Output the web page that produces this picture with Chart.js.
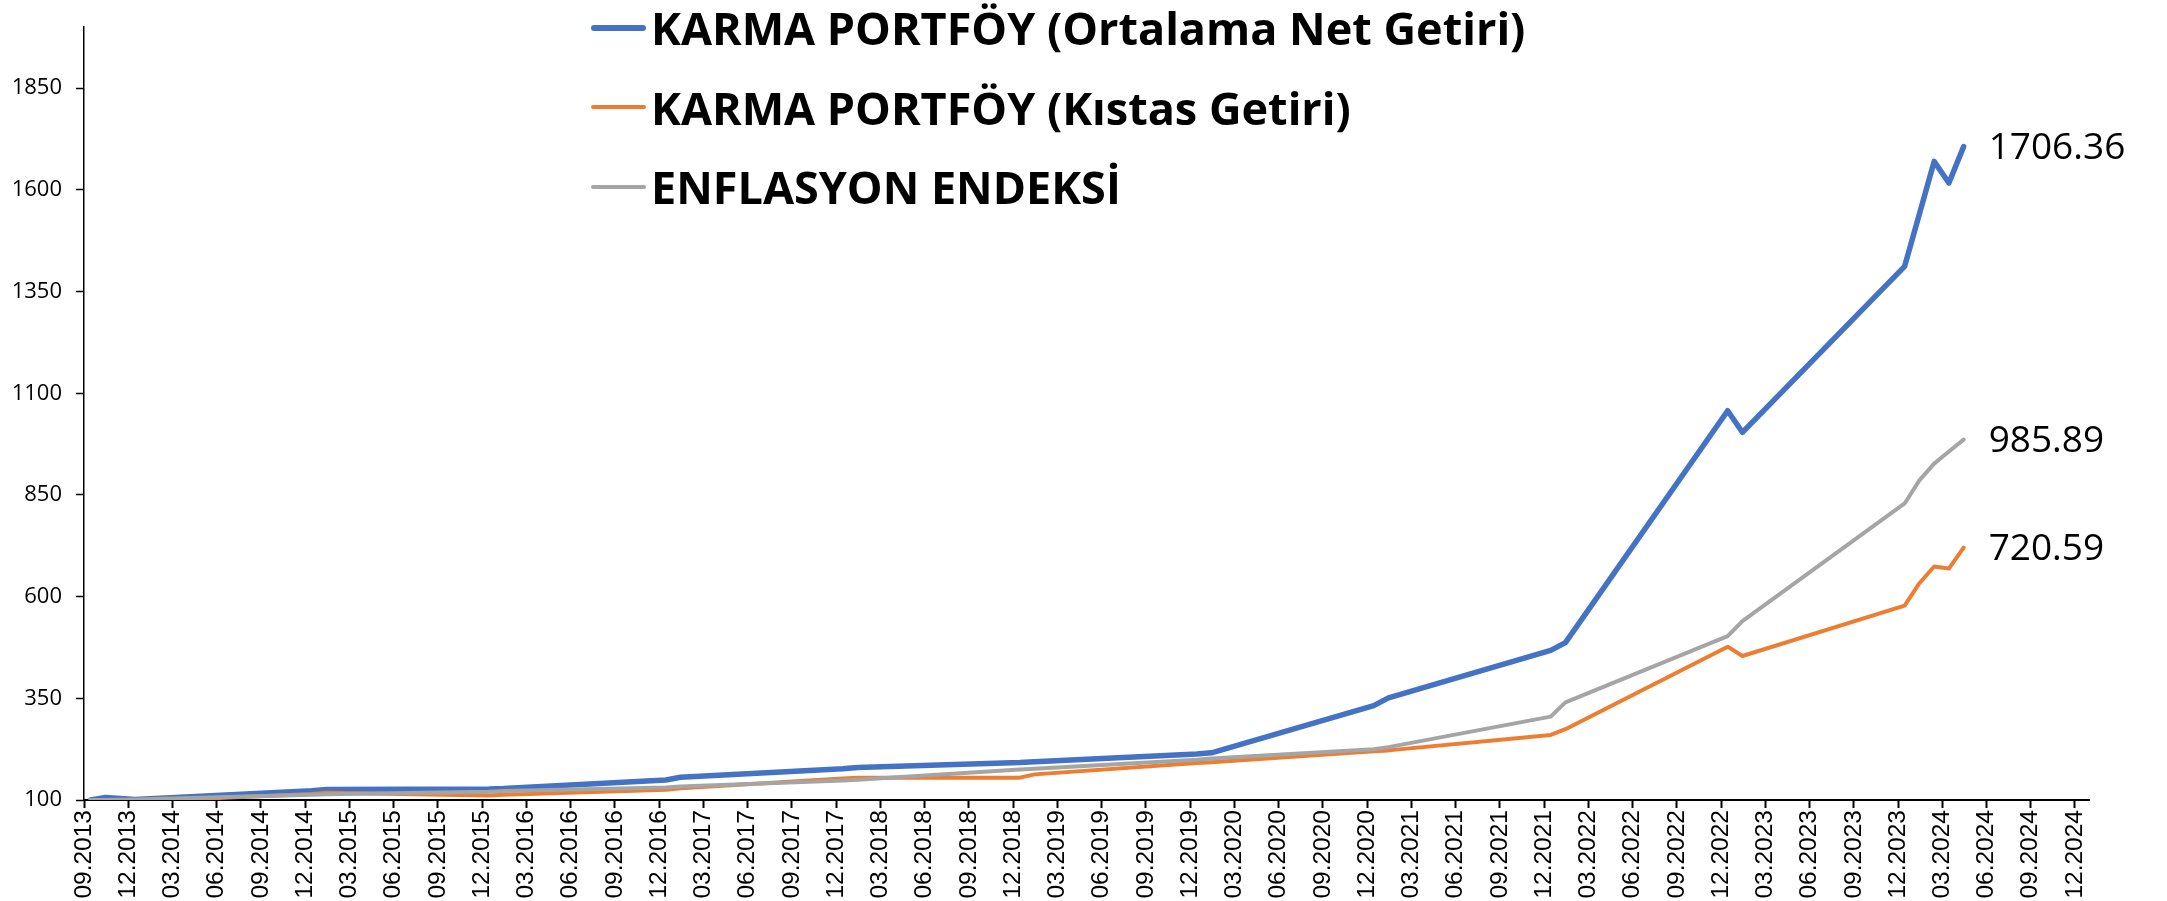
<!DOCTYPE html>
<html>
<head>
<meta charset="utf-8">
<title>Karma Portföy</title>
<script src="https://cdn.jsdelivr.net/npm/chart.js@4.4.1/dist/chart.umd.min.js"></script>
<style>
    body { margin: 0; background: #fff; }
    #wrap { position: relative; width: 2167px; height: 901px; }
    #legend {
        position: absolute;
        left: 591px;
        top: -12px;
        font-family: 'Open Sans', sans-serif;
        font-weight: 700;
        font-size: 45px;
        color: #000;
    }
    .legend-row { display: flex; align-items: center; height: 79.5px; white-space: nowrap; }
    .legend-swatch { width: 55px; margin-right: 5px; border-radius: 3px; }
</style>
</head>
<body>
<div id="wrap">
    <canvas id="portfolioChart"></canvas>
    <div id="legend"></div>
</div>
<script>
// Month-end observation dates (YYYY-MM)
const dates = [
    '2013-09', '2013-10', '2013-12', '2014-12', '2015-01', '2015-12', '2016-01',
    '2016-12', '2017-01', '2017-12', '2018-01', '2018-12', '2019-01', '2019-12',
    '2020-01', '2020-12', '2021-01', '2021-12', '2022-01', '2022-12', '2023-01',
    '2023-12', '2024-01', '2024-02', '2024-03', '2024-04'
];

// KARMA PORTFÖY (Ortalama Net Getiri)
const netReturn = [
    100, 106, 101, 123, 126, 127, 128,
    149, 156, 177, 180, 192, 194, 213,
    216, 332, 351, 468, 487, 1057, 1004,
    1412, 1541, 1670, 1617, 1706.36
];

// KARMA PORTFÖY (Kıstas Getiri)
const benchmarkReturn = [
    100, 99, 96, 115, 118, 111, 113,
    125, 129, 153, 155, 155, 163, 191,
    193, 220, 222, 260, 274, 477, 454,
    578, 633, 674, 669, 720.59
];

// ENFLASYON ENDEKSİ
const inflationIndex = [
    100, 100, 101, 113, 114, 120, 122,
    131, 133, 148, 150, 175, 177, 199,
    202, 225, 230, 305, 340, 503, 540,
    829, 886, 927, 957, 985.89
];

const seriesNames = [
    'KARMA PORTFÖY (Ortalama Net Getiri)',
    'KARMA PORTFÖY (Kıstas Getiri)',
    'ENFLASYON ENDEKSİ'
];

const xTickLabels = [
    '09.2013', '12.2013', '03.2014', '06.2014', '09.2014', '12.2014',
    '03.2015', '06.2015', '09.2015', '12.2015', '03.2016', '06.2016',
    '09.2016', '12.2016', '03.2017', '06.2017', '09.2017', '12.2017',
    '03.2018', '06.2018', '09.2018', '12.2018', '03.2019', '06.2019',
    '09.2019', '12.2019', '03.2020', '06.2020', '09.2020', '12.2020',
    '03.2021', '06.2021', '09.2021', '12.2021', '03.2022', '06.2022',
    '09.2022', '12.2022', '03.2023', '06.2023', '09.2023', '12.2023',
    '03.2024', '06.2024', '09.2024', '12.2024'
];

const yTickValues = [100, 350, 600, 850, 1100, 1350, 1600, 1850];

// months counted from the start of 09.2013
function monthIndex(year, month) {
    return (year - 2013) * 12 + (month - 9);
}

// data points sit at month end, axis ticks a bit past mid-month
const toX = d => {
    const [y, m] = d.split('-').map(Number);
    return monthIndex(y, m) + 1;
};
const tickToX = label => {
    const [m, y] = label.split('.').map(Number);
    return monthIndex(y, m) + 0.55;
};

const xTickValues = xTickLabels.map(tickToX);

function points(values) {
    return values.map((v, i) => ({ x: toX(dates[i]), y: v }));
}

const colors = ['#4472C4', '#ED7D31', '#A5A5A5'];
const widths = [5.5, 4, 4];

const endLabels = {
    id: 'endLabels',
    afterDatasetsDraw(chart) {
        const ctx = chart.ctx;
        ctx.save();
        ctx.font = '37px "Open Sans"';
        ctx.fillStyle = '#000';
        ctx.textBaseline = 'middle';
        chart.data.datasets.forEach((ds, i) => {
            const pts = chart.getDatasetMeta(i).data;
            const last = pts[pts.length - 1];
            const val = ds.data[ds.data.length - 1].y;
            ctx.fillText(val.toFixed(2), last.x + 25, last.y + 2);
        });
        ctx.restore();
    }
};

function buildLegend() {
    const box = document.getElementById('legend');
    box.innerHTML = seriesNames.map((name, i) => `
        <div class="legend-row">
            <span class="legend-swatch" style="background:${colors[i]};height:${widths[i]}px"></span>
            <span>${name}</span>
        </div>
    `).join('');
}

function initChart() {
    const ctx = document.getElementById('portfolioChart').getContext('2d');
    const allSeries = [netReturn, benchmarkReturn, inflationIndex];

    new Chart(ctx, {
        type: 'line',
        data: {
            datasets: allSeries.map((vals, i) => ({
                label: seriesNames[i],
                data: points(vals),
                borderColor: colors[i],
                backgroundColor: colors[i],
                borderWidth: widths[i],
                pointRadius: 0,
                tension: 0,
                fill: false,
                borderJoinStyle: 'round',
                borderCapStyle: 'round',
                order: 3 - i
            }))
        },
        options: {
            responsive: true,
            maintainAspectRatio: false,
            animation: false,
            layout: { padding: { top: 23, right: 78, bottom: 0, left: 0 } },
            plugins: {
                legend: { display: false },
                tooltip: { enabled: false }
            },
            scales: {
                x: {
                    type: 'linear',
                    bounds: 'data',
                    min: 0.55,
                    max: 136.5,
                    afterBuildTicks: s => { s.ticks = xTickValues.map(v => ({ value: v })); },
                    afterFit: s => { s.height = 101; },
                    ticks: {
                        autoSkip: false,
                        maxRotation: 90,
                        minRotation: 90,
                        padding: 2,
                        color: '#000',
                        font: { family: 'Liberation Sans', size: 24.5 },
                        callback: (v, i) => xTickLabels[i]
                    },
                    grid: { drawOnChartArea: false, drawTicks: true, tickLength: 8, tickColor: '#000', tickWidth: 2 },
                    border: { color: '#000', width: 2 }
                },
                y: {
                    bounds: 'data',
                    min: 100,
                    max: 2000,
                    afterBuildTicks: s => { s.ticks = yTickValues.map(v => ({ value: v })); },
                    afterFit: s => { s.width = 84; },
                    ticks: {
                        padding: 14,
                        color: '#000',
                        font: { family: 'Open Sans', size: 22 },
                        callback: v => String(v)
                    },
                    grid: { drawOnChartArea: false, drawTicks: true, tickLength: 8, tickColor: '#000', tickWidth: 1.5 },
                    border: { color: '#000', width: 1.5 }
                }
            }
        },
        plugins: [endLabels]
    });
}

window.addEventListener('load', () => {
    buildLegend();
    initChart();
});
</script>
</body>
</html>
